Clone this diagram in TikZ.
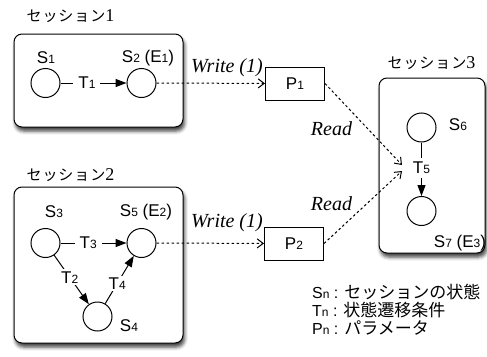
\documentclass[tikz,border=0pt]{standalone}
\usepackage{fontspec}
\setmainfont{Liberation Serif}
\setsansfont{Liberation Sans}
\newfontfamily\jpfont{Noto Sans CJK JP}
\newfontfamily\jptitle[LetterSpace=6]{Noto Sans CJK JP}
\usetikzlibrary{arrows.meta,shadows.blur}
% small index digits/letters beside state names
\newcommand\lo[1]{{\fontsize{12}{12}\selectfont #1}}
\begin{document}
\begin{tikzpicture}[x=1pt,y=-1pt,
  session/.style={draw, line width=1pt, rounded corners=8pt, fill=white,
    blur shadow={shadow xshift=1.5pt, shadow yshift=-4pt,
      shadow blur radius=3.5pt, shadow opacity=75}},
  state/.style={circle, draw, line width=1pt, minimum size=29pt, inner sep=0pt},
  lbl/.style={font=\sffamily\fontsize{17}{17}\selectfont, inner sep=0pt},
  title/.style={font=\jptitle\fontsize{15}{15}\selectfont, inner sep=0pt},
  trans/.style={line width=1pt, -{Triangle[length=11pt,width=8pt]}},
  tlabel/.style={fill=white, font=\sffamily\fontsize{17}{17}\selectfont,
    inner xsep=5pt, inner ysep=2pt},
  flow/.style={line width=1pt, dash pattern=on 2.5pt off 2.5pt,
    -{Straight Barb[length=6pt,width=9pt]}},
  act/.style={font=\itshape\fontsize{20}{20}\selectfont, inner sep=0pt},
  param/.style={draw, line width=1pt, minimum width=59pt, minimum height=33pt,
    inner sep=0pt, font=\sffamily\fontsize{17}{17}\selectfont},
  legend/.style={anchor=west, inner sep=0pt, font=\sffamily\fontsize{16}{16}\selectfont}]

\useasboundingbox (0,0) rectangle (487,356);

% session frames
\node[session, minimum width=169pt, minimum height=93pt] (box1) at (98.5,80.5) {};
\node[session, minimum width=169pt, minimum height=156pt] (box2) at (98.5,265) {};
\node[session, minimum width=106pt, minimum height=175pt] (box3) at (432,165.5) {};

\node[title] (ttl1) at (70.5,16) {セッション{\rmfamily\fontsize{18}{18}\selectfont 1}};
\node[title] (ttl2) at (70.5,175) {セッション{\rmfamily\fontsize{18}{18}\selectfont 2}};
\node[title] (ttl3) at (431.5,63) {セッション{\rmfamily\fontsize{18}{18}\selectfont 3}};

% session 1
\node[state] (s1) at (45.5,83) {};
\node[state] (s2) at (141.5,83) {};
\node[lbl] (l1) at (46,58) {S\lo{1}};
\node[lbl] (l2) at (148,58) {S\lo{2} (E\lo{1})};
\draw[trans] (s1) -- node[tlabel, pos=0.4] {T\lo{1}} (s2);

% session 2
\node[state] (s3) at (45.5,243) {};
\node[state] (s5) at (141.5,243) {};
\node[state] (s4) at (97.5,316.5) {};
\node[lbl] (l3) at (54,212) {S\lo{3}};
\node[lbl] (l5) at (146,212) {S\lo{5} (E\lo{2})};
\node[lbl] (l4) at (129,326) {S\lo{4}};
\draw[trans] (s3) -- node[tlabel, pos=0.42] {T\lo{3}} (s5);
\draw[trans] (s3) -- node[tlabel, pos=0.45, inner xsep=2pt] {T\lo{2}} (s4);
\draw[trans] (s4) -- node[tlabel, pos=0.42, inner xsep=2pt] {T\lo{4}} (s5);

% session 3
\node[state] (s6) at (421.5,127.5) {};
\node[state] (s7) at (421.5,211) {};
\node[lbl] (l6) at (458,125) {S\lo{6}};
\node[lbl] (l7) at (460,243) {S\lo{7} (E\lo{3})};
\draw[trans] (s6) -- node[tlabel, pos=0.47, inner xsep=2pt, inner ysep=4pt] {T\lo{5}} (s7);

% parameters
\node[param] (p1) at (295,83.5) {P\lo{1}};
\node[param] (p2) at (294,243.5) {P\lo{2}};

\draw[flow] (s2) -- (p1);
\draw[flow] (s5) -- (p2);
\node[act] (w1) at (227,68) {Write (1)};
\node[act] (w2) at (227,223) {Write (1)};

\coordinate (r1) at (402,165);
\coordinate (r2) at (402,171);
\draw[flow] (p1.east) -- (r1);
\draw[flow] (p2.east) -- (r2);
\node[act] (rd1) at (331.5,129) {Read};
\node[act] (rd2) at (331.5,204) {Read};

% legend
\node[legend] (k1) at (312,292) {S\lo{n} : {\jpfont\fontsize{17}{17}\selectfont セッションの状態}};
\node[legend] (k2) at (312,310) {T\lo{n} : {\jpfont\fontsize{17}{17}\selectfont 状態遷移条件}};
\node[legend] (k3) at (312,328) {P\lo{n} : {\jpfont\fontsize{17}{17}\selectfont パラメータ}};
\end{tikzpicture}
\end{document}
